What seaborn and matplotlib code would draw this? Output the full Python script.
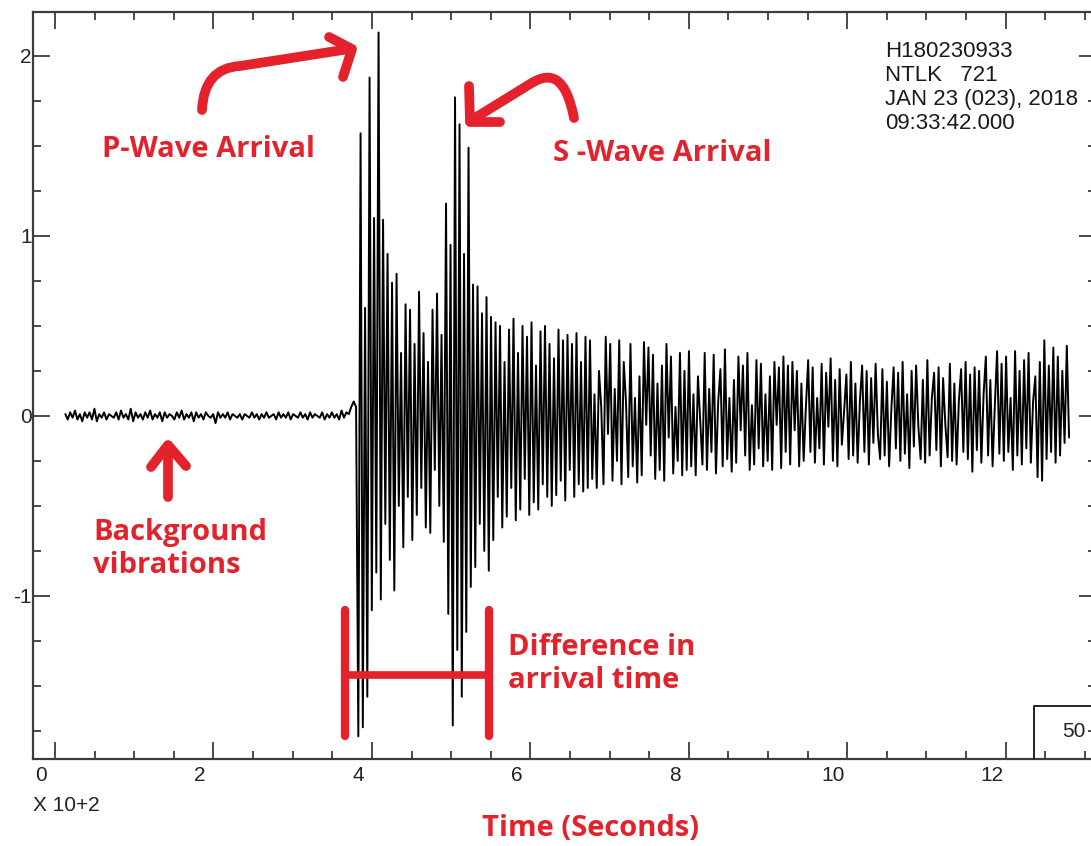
import numpy as np
import pandas as pd
import matplotlib
matplotlib.use("Agg")
import matplotlib.pyplot as plt
from matplotlib.path import Path
from matplotlib.patches import PathPatch
from matplotlib.lines import Line2D
from matplotlib.ticker import MultipleLocator, FixedLocator
import matplotlib.transforms as mtrans
import seaborn as sns

# ---------------- data ----------------
bg_start, bg_end = 0.13, 3.77      # background record (x 10^2 s)
ev_start, ev_end = 3.80, 12.80     # event record (x 10^2 s)

background_amp = [
    0.01, -0.02, 0.02, -0.01, 0.03, -0.02, 0.01, -0.03, 0.02, -0.01,
    0.02, -0.02, 0.04, -0.03, 0.01, -0.01, 0.02, -0.02, 0.01, 0.00,
    -0.01, 0.02, -0.02, 0.03, -0.01, 0.01, -0.02, 0.04, -0.03, 0.02,
    -0.01, 0.01, -0.02, 0.02, -0.01, 0.03, -0.02, 0.01, -0.01, 0.02,
    -0.03, 0.02, -0.01, 0.01, 0.00, -0.02, 0.02, -0.01, 0.03, -0.02,
    0.01, -0.01, 0.02, -0.03, 0.02, -0.01, 0.01, -0.02, 0.02, 0.00,
    -0.01, 0.01, -0.04, 0.02, -0.01, 0.01, -0.01, 0.02, -0.02, 0.01,
    0.00, -0.01, 0.01, -0.02, 0.01, 0.00, -0.01, 0.02, -0.01, 0.01,
    -0.02, 0.01, -0.01, 0.02, -0.01, 0.00, 0.01, -0.02, 0.02, -0.01,
    0.01, -0.01, 0.02, -0.02, 0.01, 0.00, -0.01, 0.02, -0.01, 0.01,
    -0.02, 0.02, -0.01, 0.01, 0.00, -0.01, 0.02, -0.02, 0.01, -0.01,
    0.02, -0.01, 0.01, -0.02, 0.03, -0.01, 0.02, 0.01, 0.05, 0.08,
]

p_coda_amp = [
    0.05, -1.78, 1.57, -1.73, 0.60, -1.56, 1.88, -1.08, 1.10, -0.87,
    2.13, -1.02, 1.09, -0.60, 0.90, -0.80, 0.74, -0.97, 0.79, -0.50,
    0.35, -0.73, 0.62, -0.45, 0.59, -0.69, 0.40, -0.55, 0.69, -0.40,
    0.46, -0.62, 0.30, -0.65, 0.59, -0.30, 0.68, -0.50,
]
s_arrival_amp = [
    0.45, -0.70, 1.18, -1.10, 0.95, -1.72, 1.77, -1.30, 1.62, -1.56,
    0.90, -1.20, 1.49, -0.95, 0.73, -0.84, 0.72, -0.60, 0.57, -0.75,
    0.66, -0.86,
]
s_coda_amp = [
    0.55, -0.69, 0.52, -0.45, 0.50, -0.62, 0.30, -0.56, 0.48, -0.40,
    0.54, -0.58, 0.35, -0.52, 0.50, -0.35, 0.44, -0.55, 0.52, -0.48,
    0.28, -0.52, 0.47, -0.38, 0.50, -0.45, 0.40, -0.50, 0.32, -0.44,
    0.48, -0.36, 0.42, -0.47, 0.45, -0.30, 0.40, -0.45, 0.46, -0.38,
    0.30, -0.42, 0.44, -0.40,
]
mid_coda_amp = [
    0.42, -0.35, 0.12, -0.40, 0.25, 0.05, -0.38, 0.44, -0.10, 0.40,
    -0.36, 0.15, -0.25, 0.42, -0.38, 0.30, 0.08, -0.34, 0.40, -0.28,
    0.10, -0.37, 0.22, -0.33, 0.41, -0.05, 0.38, -0.22, 0.34, -0.35,
    0.18, -0.30, 0.28, -0.36, 0.40, -0.12, 0.33, -0.32, 0.05, -0.25,
    0.35, -0.33, 0.25, -0.30,
    0.36, -0.28, 0.12, -0.33, 0.22, -0.02, -0.27, 0.35, -0.30, 0.15,
    -0.20, 0.34, -0.32, 0.08, 0.26, -0.28, 0.37, -0.24, 0.10, -0.31,
    0.20, -0.26, 0.33, -0.08, 0.28, -0.22, 0.35, -0.30, 0.06, -0.27,
    0.31, -0.18, 0.29, -0.28, 0.12, -0.25, 0.22, -0.30, 0.30, -0.05,
    0.27, -0.29, 0.33, -0.20, 0.28,
]
late_coda_amp = [
    -0.27, 0.30, -0.08, 0.25, -0.28, 0.18, -0.25, 0.05, 0.31, -0.20,
    0.27, -0.26, 0.10, -0.18, 0.29, -0.27, 0.24, -0.06, 0.32, -0.25,
    0.20, -0.28, 0.26, -0.16, 0.03, 0.23, -0.24, 0.30, -0.22, 0.18,
    -0.26, 0.08, 0.28, -0.20, 0.25, -0.27, 0.21, -0.15, 0.29, -0.10,
    -0.24, 0.26, -0.22, 0.19, -0.28, 0.04, 0.27, -0.18, 0.24, -0.25,
    0.30, -0.21, 0.12, -0.29, 0.25, -0.17, 0.28, -0.06, -0.24, 0.20,
    -0.26, 0.31, -0.22, 0.10, 0.24, -0.19, 0.27, -0.28, 0.21, -0.05,
    -0.23, 0.29, -0.25, 0.18, -0.27, 0.08, 0.26, -0.20, 0.30, -0.24,
    0.23, -0.31, 0.27, -0.19,
    0.25, -0.26, 0.12, 0.33, -0.22, 0.20, -0.28, 0.06, 0.36, -0.21,
    0.29, -0.25, 0.33, -0.20, 0.10, -0.30, 0.36, -0.22, 0.25, -0.27,
    0.31, -0.18, 0.35, -0.26, 0.08, 0.22, -0.34, 0.30, -0.36, 0.42,
    -0.24, 0.28, -0.20, 0.38, -0.26, 0.33, -0.22, 0.25, -0.15, 0.39,
    -0.12,
]

x_major_ticks = [0, 2, 4, 6, 8, 10, 12]
x_tick_labels = ["0", "2", "4", "6", "8", "10", "12"]
y_major_ticks = [-1, 0, 1, 2]
y_tick_labels = ["-1", "0", "1", "2"]

header_lines = ["H180230933", "NTLK   721", "JAN 23 (023), 2018", "09:33:42.000"]
scale_label = "X 10+2"
box_label = "50"
x_title = "Time (Seconds)"
p_label = "P-Wave Arrival"
s_label = "S -Wave Arrival"
bg_label = "Background\nvibrations"
diff_label = "Difference in\narrival time"

# markers of the annotation bar (x 10^2 s)
p_mark, s_mark = 3.66, 5.48

# ---------------- build table ----------------
event_amp = p_coda_amp + s_arrival_amp + s_coda_amp + mid_coda_amp + late_coda_amp
bg_time = np.linspace(bg_start, bg_end, len(background_amp))
ev_time = np.linspace(ev_start, ev_end, len(event_amp))
df = pd.DataFrame({
    "time": np.concatenate([bg_time, ev_time]),
    "amp": np.concatenate([background_amp, event_amp]),
})

# ---------------- figure ----------------
sns.set_style("ticks")
plain = ["Liberation Sans", "DejaVu Sans"]
plt.rcParams["font.family"] = plain

W, H = 1091, 846
fig = plt.figure(figsize=(W / 100, H / 100), dpi=100)
fig.patch.set_facecolor("white")

def fx(px):
    return px / W

def fy(py):
    return 1 - py / H

ax_left, ax_right, ax_top, ax_bottom = 33, 1096, 12, 759
ax = fig.add_axes([fx(ax_left), fy(ax_bottom), fx(ax_right - ax_left), (ax_bottom - ax_top) / H])
ax.set_facecolor("white")

sns.lineplot(data=df, x="time", y="amp", color="black", linewidth=1.4,
             estimator=None, sort=False, ax=ax)

ax.set_xlim(-0.278, 13.14)
ax.set_ylim(-1.906, 2.244)
ax.set_xlabel("")
ax.set_ylabel("")

spine_col = "#3c3c3c"
for s in ax.spines.values():
    s.set_visible(True)
    s.set_color(spine_col)
    s.set_linewidth(1.6)

ax.xaxis.set_major_locator(FixedLocator(x_major_ticks))
ax.set_xticklabels(x_tick_labels)
ax.xaxis.set_minor_locator(MultipleLocator(0.5))
ax.yaxis.set_major_locator(FixedLocator(y_major_ticks))
ax.set_yticklabels(y_tick_labels)
ax.yaxis.set_minor_locator(MultipleLocator(0.25))

ax.tick_params(which="both", direction="in", top=True, right=True, color=spine_col,
               width=1.3, labelsize=15, labelcolor="#222222")
ax.tick_params(which="major", length=12.5)
ax.tick_params(which="minor", length=5.8)
ax.tick_params(axis="x", pad=5)
ax.tick_params(axis="y", pad=1)

shift = mtrans.ScaledTranslation(-14 / 100, 0, fig.dpi_scale_trans)
for lab in ax.get_xticklabels():
    lab.set_transform(lab.get_transform() + shift)

# ---------------- header & misc black text ----------------
fig.text(fx(885), fy(41), "\n".join(header_lines), ha="left", va="top",
         fontsize=16, color="#1a1a1a", linespacing=1.18, family=plain)
fig.text(fx(33), fy(796), scale_label, ha="left", va="top", fontsize=15,
         color="#222222", family=plain)

# "50" box
fig.add_artist(Line2D([fx(1034), fx(1034), fx(1100)], [fy(759), fy(706), fy(706)],
                      color="#222222", lw=1.4, transform=fig.transFigure))
fig.text(fx(1062), fy(731), box_label, ha="left", va="center", fontsize=15,
         color="#222222", family=plain)

# ---------------- red annotations ----------------
red = "#e3222b"
tfont = dict(family=["Open Sans", "DejaVu Sans"], fontweight="bold", color=red, fontsize=21)

fig.text(fx(102), fy(157), p_label, ha="left", va="baseline", **tfont)
fig.text(fx(553), fy(161), s_label, ha="left", va="baseline", **tfont)
fig.text(fx(93), fy(518), bg_label, ha="left", va="top", linespacing=1.2, **tfont)
fig.text(fx(508), fy(633), diff_label, ha="left", va="top", linespacing=1.2, **tfont)
fig.text(fx(482), fy(836), x_title, ha="left", va="baseline", **tfont)

def pathpatch(verts, codes, lw):
    v = [(fx(a), fy(b)) for a, b in verts]
    p = PathPatch(Path(v, codes), facecolor="none", edgecolor=red, lw=lw,
                  capstyle="round", joinstyle="round", transform=fig.transFigure)
    fig.add_artist(p)

M, L, C3, C4 = Path.MOVETO, Path.LINETO, Path.CURVE3, Path.CURVE4
# P-wave arrow
pathpatch([(202, 110), (204, 68), (240, 66), (349, 49)], [M, C3, C3, L], 7)
pathpatch([(329, 37), (352, 49), (343, 77)], [M, L, L], 7)
# S-wave arrow
pathpatch([(470, 121), (530, 84), (552, 70), (566, 78), (574, 118)], [M, L, C4, C4, C4], 7)
pathpatch([(469, 86), (470, 122), (500, 122)], [M, L, L], 7)
# Background arrow
pathpatch([(168, 497), (168, 446)], [M, L], 7)
pathpatch([(151, 467), (168, 445), (186, 466)], [M, L, L], 7)

# Difference-in-arrival bar (data coordinates)
ax.plot([p_mark, p_mark], [-1.08, -1.78], color=red, lw=6, solid_capstyle="round", zorder=5)
ax.plot([s_mark, s_mark], [-1.08, -1.78], color=red, lw=6, solid_capstyle="round", zorder=5)
ax.plot([p_mark, s_mark], [-1.44, -1.44], color=red, lw=5.5, solid_capstyle="butt", zorder=5)

fig.savefig("out.png", dpi=100, facecolor="white")
